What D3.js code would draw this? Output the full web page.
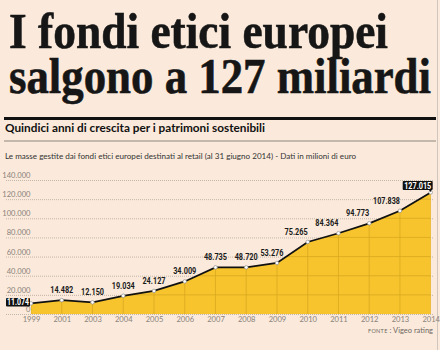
<!DOCTYPE html>
<html>
<head>
  <meta charset="utf-8">
  <script src="https://cdn.jsdelivr.net/npm/d3@7"></script>
  <style>
    body { margin: 0; background: #fbeadb; }
    svg { display: block; }
  </style>
</head>
<body>
  <svg width="440" height="350" id="mainsvg"></svg>
  <script>
    // data
    const years = ['1999', '2001', '2003', '2004', '2005', '2006', '2007', '2008', '2009', '2010', '2011', '2012', '2013', '2014'];
    const values = [11074, 14482, 12150, 19034, 24127, 34009, 48735, 48720, 53276, 75265, 84364, 94773, 107838, 127015];
    const yTicks = [0, 20000, 40000, 60000, 80000, 100000, 120000, 140000];

    const svg = d3.select('#mainsvg');
    const fmt = d => d3.format(',')(d).replace(/,/g, '.');

    const xScale = d3.scalePoint().domain(years).range([31, 430.7]);
    const yScale = d3.scaleLinear().domain([0, 140000]).range([314, 180]);

    // headline
    const title = svg.append('g')
      .attr('font-family', 'Liberation Serif, serif')
      .attr('font-weight', 'bold')
      .attr('font-size', 51)
      .attr('fill', '#161616')
      .attr('stroke', '#161616').attr('stroke-width', 0.6);
    title.append('text').attr('x', 9).attr('y', 48)
      .attr('textLength', 379).attr('lengthAdjust', 'spacingAndGlyphs')
      .text('I fondi etici europei');
    title.append('text').attr('x', 9).attr('y', 93)
      .attr('textLength', 422).attr('lengthAdjust', 'spacingAndGlyphs')
      .text('salgono a 127 miliardi');

    // rules + subtitle
    svg.append('rect').attr('x', 4).attr('y', 117).attr('width', 432).attr('height', 3).attr('fill', '#111');
    svg.append('text').attr('x', 5).attr('y', 132)
      .attr('font-family', 'Lato, sans-serif').attr('font-weight', 'bold').attr('font-size', 11.5)
      .attr('fill', '#111')
      .attr('textLength', 260).attr('lengthAdjust', 'spacingAndGlyphs')
      .text('Quindici anni di crescita per i patrimoni sostenibili');
    svg.append('rect').attr('x', 4).attr('y', 140.5).attr('width', 432).attr('height', 1).attr('fill', '#8d857e');
    svg.append('text').attr('x', 5).attr('y', 159)
      .attr('font-family', 'Lato, sans-serif').attr('font-size', 8.3)
      .attr('fill', '#333')
      .attr('textLength', 351).attr('lengthAdjust', 'spacingAndGlyphs')
      .text('Le masse gestite dai fondi etici europei destinati al retail (al 31 giugno 2014) - Dati in milioni di euro');

    // right border
    svg.append('line').attr('x1', 437.5).attr('x2', 437.5).attr('y1', 0).attr('y2', 350)
      .attr('stroke', '#cfc6bd').attr('stroke-width', 1);

    // y grid (dotted) and labels
    const yAxis = d3.axisLeft(yScale).tickValues(yTicks).tickSize(-427).tickFormat(fmt).tickPadding(0);
    const yAxisGroup = svg.append('g').attr('transform', 'translate(6,0)').call(yAxis);
    yAxisGroup.select('.domain').remove();
    yAxisGroup.selectAll('.tick line')
      .attr('stroke', '#b3a89d').attr('stroke-dasharray', '1,1').attr('stroke-width', 0.8);
    yAxisGroup.selectAll('.tick text')
      .attr('x', 24.5).attr('dy', -2.5)
      .attr('text-anchor', 'end')
      .attr('font-family', 'Lato, sans-serif').attr('font-size', 7.6).attr('fill', '#8a837c');

    // area
    const area = d3.area()
      .x((d, i) => xScale(years[i]))
      .y0(yScale(0))
      .y1(d => yScale(d));
    svg.append('path').datum(values).attr('d', area).attr('fill', '#f7c42e');

    // darker grid inside area
    svg.append('clipPath').attr('id', 'areaclip')
      .append('path').datum(values).attr('d', area);
    const inner = svg.append('g').attr('clip-path', 'url(#areaclip)');
    inner.selectAll('line.h').data(yTicks.slice(1)).enter().append('line')
      .attr('x1', 6).attr('x2', 433)
      .attr('y1', d => yScale(d)).attr('y2', d => yScale(d))
      .attr('stroke', '#d9a81f').attr('stroke-width', 0.8);
    inner.selectAll('line.v').data(years).enter().append('line')
      .attr('x1', d => xScale(d)).attr('x2', d => xScale(d))
      .attr('y1', 180).attr('y2', yScale(0))
      .attr('stroke', '#d9a81f').attr('stroke-width', 0.8);

    // line
    const line = d3.line()
      .x((d, i) => xScale(years[i]))
      .y(d => yScale(d));
    svg.append('path').datum(values).attr('d', line)
      .attr('fill', 'none').attr('stroke', '#111').attr('stroke-width', 1.8);

    svg.selectAll('circle.pt').data(values).enter().append('circle')
      .attr('cx', (d, i) => xScale(years[i]))
      .attr('cy', d => yScale(d))
      .attr('r', 1.8)
      .attr('fill', '#fff').attr('stroke', '#8f8f8f').attr('stroke-width', 0.7);

    // x labels
    const xAxis = d3.axisBottom(xScale).tickSize(0).tickPadding(0);
    const xAxisGroup = svg.append('g').attr('transform', `translate(0,${yScale(0)})`).call(xAxis);
    xAxisGroup.select('.domain').remove();
    xAxisGroup.selectAll('.tick text')
      .attr('y', 8).attr('dy', 0)
      .attr('font-family', 'Lato, sans-serif').attr('font-size', 7.6).attr('fill', '#8a837c');

    // value labels
    const last = values.length - 1;
    const labels = svg.append('g')
      .attr('font-family', 'Roboto, sans-serif').attr('font-weight', 'bold').attr('font-size', 8.6);
    labels.selectAll('text.val').data(values).enter()
      .filter((d, i) => i > 0 && i < last)
      .append('text')
      .attr('x', (d, i) => xScale(years[i + 1]))
      .attr('y', d => yScale(d) - 7)
      .attr('text-anchor', (d, i) => (i + 1 >= 9 ? 'end' : 'middle'))
      .attr('dx', (d, i) => (i + 1 === 8 ? -5 : 0))
      .attr('fill', '#1a1a1a')
      .attr('textLength', d => fmt(d).length * 3.85)
      .attr('lengthAdjust', 'spacingAndGlyphs')
      .text(d => fmt(d));

    // boxed labels: first and last
    const boxFirst = labels.append('g')
      .attr('transform', `translate(${xScale(years[0])},${yScale(values[0])})`);
    boxFirst.append('rect').attr('x', -25).attr('y', -5.5).attr('width', 24).attr('height', 8.5)
      .attr('rx', 1).attr('fill', '#111');
    boxFirst.append('text').attr('x', -13).attr('y', 1.8).attr('text-anchor', 'middle')
      .attr('fill', '#fff').attr('textLength', 22).attr('lengthAdjust', 'spacingAndGlyphs')
      .text(fmt(values[0]));

    const boxLast = labels.append('g')
      .attr('transform', `translate(${xScale(years[last])},${yScale(values[last])})`);
    boxLast.append('rect').attr('x', -28).attr('y', -11.5).attr('width', 30).attr('height', 9)
      .attr('rx', 1).attr('fill', '#111');
    boxLast.append('path').attr('d', 'M-2,-2.8 L1,-2.8 L0,-0.5 Z').attr('fill', '#111');
    boxLast.append('text').attr('x', -13).attr('y', -3.8).attr('text-anchor', 'middle')
      .attr('fill', '#fff').attr('textLength', 27).attr('lengthAdjust', 'spacingAndGlyphs')
      .text(fmt(values[last]));

    // source
    const src = svg.append('text').attr('x', 433).attr('y', 333).attr('text-anchor', 'end')
      .attr('font-family', 'Lato, sans-serif').attr('fill', '#6f6862');
    src.append('tspan').attr('font-size', 5.5).attr('letter-spacing', 0.3).text('FONTE');
    src.append('tspan').attr('font-size', 7.5).text(' : Vigeo rating');
  </script>
</body>
</html>
